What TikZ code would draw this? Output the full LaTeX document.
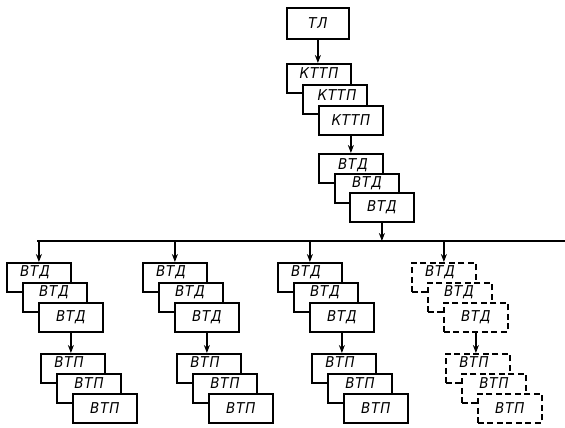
\documentclass[tikz,border=0pt]{standalone}
\usepackage{fontspec}
\newfontfamily\gost[LetterSpace=6]{DejaVu Sans Condensed}
\usetikzlibrary{arrows.meta}
\begin{document}
\begin{tikzpicture}[x=1bp,y=-1bp,
  box/.style={draw, line width=1.8bp, fill=white, minimum width=64bp, minimum height=29bp, anchor=north west, inner sep=0pt},
  dbox/.style={box, dash pattern=on 6bp off 3.5bp},
  lbl/.style={font=\gost\itshape\fontsize{15}{15}\selectfont, inner sep=0pt},
  arr/.style={line width=1.6bp, -{Stealth[length=8bp,width=6bp]}},
  ln/.style={line width=1.8bp}]
\useasboundingbox (0,0) rectangle (565,427);
% top chain
\node[box, minimum width=62bp, minimum height=31bp] (tl) at (286,7) {};
\node[lbl] (ttl) at (tl.center) {ТЛ};
\node[box] (k1) at (286,63) {};
\node[lbl] (tk1) at ([shift={(33,10)}]k1.north west) {КТТП};
\node[box] (k2) at (302,84) {};
\node[lbl] (tk2) at ([shift={(35,11)}]k2.north west) {КТТП};
\node[box] (k3) at (318,105) {};
\node[lbl] (tk3) at (k3.center) {КТТП};
\node[box] (v1) at (318,153) {};
\node[lbl] (tv1) at ([shift={(35,12)}]v1.north west) {ВТД};
\node[box] (v2) at (334,173) {};
\node[lbl] (tv2) at ([shift={(33,10)}]v2.north west) {ВТД};
\node[box] (v3) at (349,192) {};
\node[lbl] (tv3) at (v3.center) {ВТД};
\draw[arr] (tl.south) -- (tl.south |- k1.north);
\draw[arr] (k3.south) -- (k3.south |- v1.north);
% bus
\coordinate (busL) at (37,241);
\coordinate (busR) at (565,241);
\draw[arr] (v3.south) -- (v3.south |- busL);
\draw[ln] (busL) -- (busR);
% groups
\foreach \g/\x/\s in {1/6/box, 2/142/box, 3/277/box, 4/411/dbox} {
  \node[\s] (d\g-a) at (\x,262) {};
  \node[lbl] (td\g-a) at ([shift={(29,10)}]d\g-a.north west) {ВТД};
  \node[\s] (d\g-b) at (\x+16,282) {};
  \node[lbl] (td\g-b) at ([shift={(32,10)}]d\g-b.north west) {ВТД};
  \node[\s] (d\g-c) at (\x+32,302) {};
  \node[lbl] (td\g-c) at (d\g-c.center) {ВТД};
  \node[\s] (p\g-a) at (\x+34,353) {};
  \node[lbl] (tp\g-a) at ([shift={(29,9)}]p\g-a.north west) {ВТП};
  \node[\s] (p\g-b) at (\x+50,373) {};
  \node[lbl] (tp\g-b) at ([shift={(33,10)}]p\g-b.north west) {ВТП};
  \node[\s] (p\g-c) at (\x+66,393) {};
  \node[lbl] (tp\g-c) at (p\g-c.center) {ВТП};
  \draw[arr] (d\g-a.north |- busL) -- (d\g-a.north);
  \draw[arr] (d\g-c.south) -- (d\g-c.south |- p\g-a.north);
}
\end{tikzpicture}
\end{document}
